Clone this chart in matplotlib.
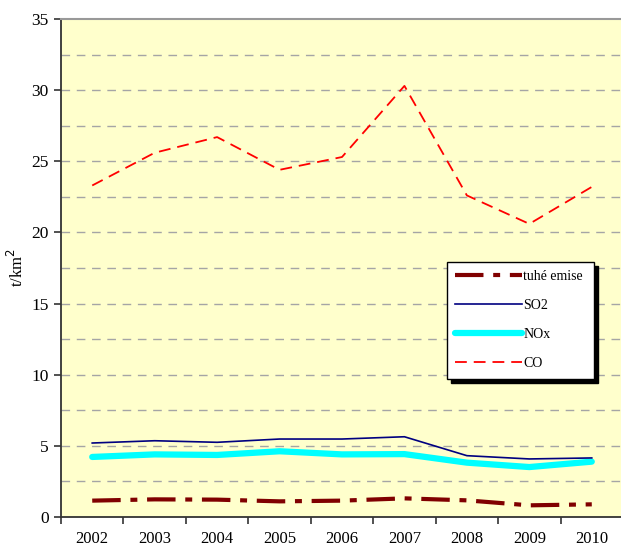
import matplotlib
matplotlib.use("Agg")
import matplotlib.pyplot as plt
import numpy as np

years = ["2002", "2003", "2004", "2005", "2006", "2007", "2008", "2009", "2010"]
tuhe = [1.15, 1.24, 1.22, 1.10, 1.15, 1.31, 1.17, 0.82, 0.89]
so2 = [5.20, 5.36, 5.25, 5.48, 5.48, 5.64, 4.31, 4.08, 4.15]
nox = [4.22, 4.40, 4.36, 4.62, 4.40, 4.42, 3.82, 3.51, 3.89]
co = [23.3, 25.6, 26.7, 24.4, 25.3, 30.3, 22.6, 20.6, 23.2]
yticks = [0, 5, 10, 15, 20, 25, 30, 35]

plt.rcParams['font.family'] = ['Liberation Serif', 'DejaVu Serif']
plt.rcParams['lines.scale_dashes'] = False

fig = plt.figure(figsize=(6.21, 5.5), dpi=100)
ax = fig.add_axes([61/621, 1-517/550, 562/621, 498/550])
ax.set_facecolor('#FFFFCC')

x = np.arange(len(years))
ax.plot(x, tuhe, color='#800000', lw=3.0, dashes=(20.5, 7, 5, 7), label='tuhé emise', zorder=3)
ax.plot(x, so2, color='#000080', lw=1.2, label='SO2', zorder=3)
ax.plot(x, nox, color='#00FFFF', lw=4.5, solid_capstyle='round', label='NOx', zorder=2)
ax.plot(x, co, color='#FF0000', lw=1.3, dashes=(8.5, 5), label='CO', zorder=3)

ax.set_xlim(-0.5, len(years) - 0.5)
ax.set_ylim(0, 35)
ax.set_yticks(yticks)
ax.set_yticks(np.arange(2.5, 35, 2.5), minor=True)
for v in np.arange(2.5, 35, 2.5):
    ax.axhline(v, color='#A5A5A5', lw=1.0, dashes=(6.2, 4.8), zorder=1)

ax.set_xticks(x)
ax.set_xticklabels(years, fontsize=12)
ax.set_xticks(np.arange(-0.5, len(years), 1.0), minor=True)
ax.tick_params(axis='x', which='major', length=0, pad=10)
ax.tick_params(axis='x', which='minor', length=5, width=1.2, direction='out', color='#333333')
ax.tick_params(axis='y', which='major', length=5, width=1.2, direction='out', color='#333333', labelsize=12.5, pad=4)
ax.tick_params(axis='y', which='minor', length=0)

for s in ['left', 'bottom']:
    ax.spines[s].set_color('#333333')
    ax.spines[s].set_linewidth(1.3)
ax.spines['top'].set_color('#999999')
ax.spines['top'].set_linewidth(1.5)
ax.spines['right'].set_visible(False)

ax.set_ylabel('t/km$^2$', fontsize=12, labelpad=3)

leg = ax.legend(loc='upper left', bbox_to_anchor=(0.687, 0.275, 0.261, 0.237), mode='expand',
                fontsize=10, frameon=True, fancybox=False, edgecolor='black', facecolor='white',
                framealpha=1, shadow={'color': 'black', 'alpha': 1, 'ox': 3, 'oy': -3},
                handlelength=4.8, handletextpad=0.1, labelspacing=1.15, borderpad=0.6,
                borderaxespad=0)
leg.get_frame().set_linewidth(1.0)

fig.savefig('out.png', dpi=100)
